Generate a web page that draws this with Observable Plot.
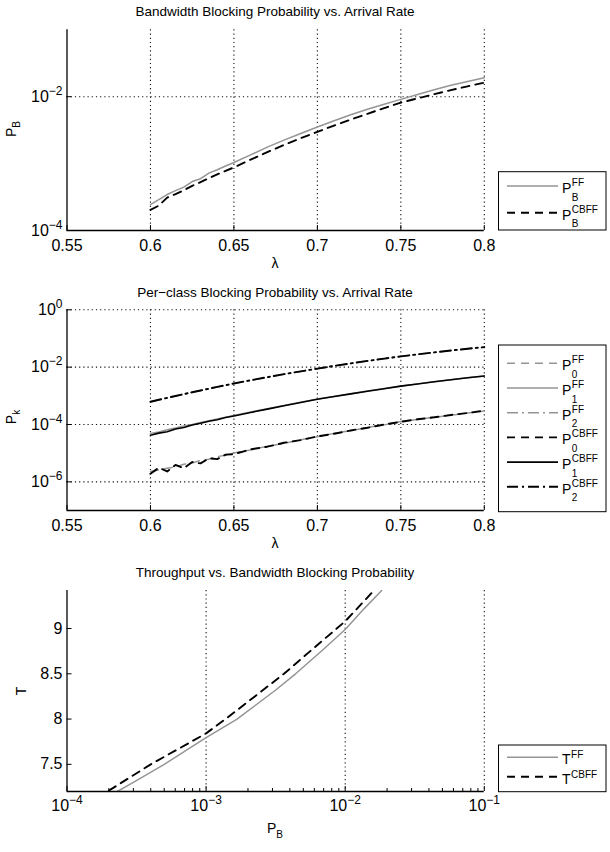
<!DOCTYPE html>
<html><head><meta charset="utf-8">
<script src="https://cdn.jsdelivr.net/npm/d3@7"></script>
<script src="https://cdn.jsdelivr.net/npm/@observablehq/plot@0.6"></script>
<style>
body{margin:0;background:#fff;}
#root{position:relative;width:610px;height:852px;overflow:hidden;background:#fff;}
#root svg{position:absolute;left:0;}
</style></head><body><div id="root"></div>
<script>
// ---------------- DATA ----------------
const lam = [0.6,0.605,0.61,0.615,0.62,0.625,0.63,0.635,0.64,0.645,0.65,0.66,0.67,0.68,0.69,0.70,0.71,0.72,0.73,0.74,0.75,0.76,0.77,0.78,0.79,0.80];

// Panel 1: bandwidth blocking probability
const pbFF   = [2.44e-4,2.9e-4,3.45e-4,3.95e-4,4.45e-4,5.4e-4,5.95e-4,7.2e-4,8.1e-4,9.2e-4,1.04e-3,1.35e-3,1.76e-3,2.24e-3,2.82e-3,3.53e-3,4.37e-3,5.37e-3,6.49e-3,7.73e-3,9.12e-3,1.076e-2,1.268e-2,1.479e-2,1.69e-2,1.92e-2];
const pbCBFF = [2.04e-4,2.35e-4,3.1e-4,3.5e-4,4.0e-4,4.65e-4,5.3e-4,6.05e-4,6.9e-4,7.8e-4,8.77e-4,1.148e-3,1.479e-3,1.905e-3,2.40e-3,2.98e-3,3.70e-3,4.55e-3,5.55e-3,6.76e-3,8.15e-3,9.44e-3,1.091e-2,1.253e-2,1.429e-2,1.62e-2];

// Panel 2: per-class blocking probability
const p0FF   = [2.3e-6,2.6e-6,3.0e-6,3.3e-6,4.1e-6,4.5e-6,5.6e-6,6.1e-6,7.6e-6,8.4e-6,1.02e-5,1.3e-5,1.75e-5,2.2e-5,2.95e-5,3.75e-5,4.9e-5,6.05e-5,7.9e-5,9.7e-5,1.27e-4,1.48e-4,1.8e-4,2.1e-4,2.5e-4,2.95e-4];
const p1FF   = [4.9e-5,5.5e-5,6.6e-5,7.5e-5,8.8e-5,1.0e-4,1.18e-4,1.34e-4,1.56e-4,1.79e-4,2.08e-4,2.72e-4,3.52e-4,4.6e-4,5.95e-4,7.7e-4,9.55e-4,1.19e-3,1.46e-3,1.79e-3,2.2e-3,2.61e-3,3.1e-3,3.64e-3,4.28e-3,4.95e-3];
const p2FF   = [6.1e-4,7.2e-4,8.4e-4,9.8e-4,1.14e-3,1.32e-3,1.52e-3,1.76e-3,2.02e-3,2.33e-3,2.67e-3,3.45e-3,4.43e-3,5.63e-3,7.08e-3,8.84e-3,1.095e-2,1.345e-2,1.635e-2,1.97e-2,2.36e-2,2.79e-2,3.26e-2,3.78e-2,4.36e-2,4.97e-2];
const p0CBFF = [1.9e-6,3.1e-6,2.3e-6,3.9e-6,3.0e-6,4.9e-6,4.4e-6,6.6e-6,6.2e-6,8.9e-6,9.2e-6,1.36e-5,1.68e-5,2.3e-5,2.85e-5,3.85e-5,4.75e-5,6.2e-5,7.7e-5,1.0e-4,1.24e-4,1.52e-4,1.78e-4,2.15e-4,2.52e-4,3.05e-4];
const p1CBFF = [4.2e-5,5.0e-5,5.6e-5,7.0e-5,7.9e-5,9.6e-5,1.10e-4,1.30e-4,1.47e-4,1.74e-4,1.98e-4,2.62e-4,3.44e-4,4.48e-4,5.82e-4,7.55e-4,9.4e-4,1.17e-3,1.44e-3,1.77e-3,2.18e-3,2.59e-3,3.08e-3,3.62e-3,4.26e-3,4.93e-3];
const p2CBFF = [6.22e-4,7.28e-4,8.49e-4,9.89e-4,1.148e-3,1.33e-3,1.538e-3,1.774e-3,2.04e-3,2.344e-3,2.69e-3,3.48e-3,4.47e-3,5.68e-3,7.14e-3,8.91e-3,1.104e-2,1.355e-2,1.648e-2,1.986e-2,2.377e-2,2.805e-2,3.28e-2,3.81e-2,4.39e-2,5.01e-2];

// Panel 3: throughput vs bandwidth blocking probability
const tPbFF   = [2.3e-4,3.0e-4,5.0e-4,1.0e-3,1.67e-3,3.1e-3,4.4e-3,6.7e-3,1.0e-2,1.37e-2,1.83e-2];
const tFF     = [7.2,7.3,7.5,7.794,8.0,8.31,8.5,8.746,8.99,9.22,9.42];
const tPbCBFF = [2.0e-4,2.6e-4,4.0e-4,1.0e-3,1.38e-3,2.24e-3,3.63e-3,5.9e-3,1.0e-2,1.61e-2];
const tCBFF   = [7.21,7.32,7.5,7.842,8.0,8.25,8.5,8.78,9.08,9.42];

// Ticks and labels
const lamTicks = [0.55,0.6,0.65,0.7,0.75,0.8];
const lamTickLabels = ["0.55","0.6","0.65","0.7","0.75","0.8"];
const lamGrid = [0.6,0.65,0.7,0.75,0.8];
const y1Ticks = [1e-4,1e-2];
const y1TickLabels = ["10^\u22124","10^\u22122"];
const y2Ticks = [1e-6,1e-4,1e-2,1];
const y2TickLabels = ["10^\u22126","10^\u22124","10^\u22122","10^0"];
const x3Ticks = [1e-4,1e-3,1e-2,1e-1];
const x3TickLabels = ["10^\u22124","10^\u22123","10^\u22122","10^\u22121"];
const y3Ticks = [7.5,8,8.5,9];
const y3TickLabels = ["7.5","8","8.5","9"];

const titles = ["Bandwidth Blocking Probability vs. Arrival Rate","Per\u2212class Blocking Probability vs. Arrival Rate","Throughput vs. Bandwidth Blocking Probability"];

const leg1Main = ["P","P"], leg1Sup = ["FF","CBFF"], leg1Sub = ["B","B"];
const leg2Main = ["P","P","P","P","P","P"], leg2Sup = ["FF","FF","FF","CBFF","CBFF","CBFF"], leg2Sub = ["0","1","2","0","1","2"];
const leg3Main = ["T","T"], leg3Sup = ["FF","CBFF"], leg3Sub = ["",""];

// ---------------- STYLES ----------------
const FONT = '"Liberation Sans", Arial, Helvetica, sans-serif';
const NS = "http://www.w3.org/2000/svg";
const GRAY = "#959595";
const S = {
  graySolid: {stroke: GRAY, strokeWidth: 1.5},
  grayDash:  {stroke: GRAY, strokeWidth: 1.5, strokeDasharray: "8,6"},
  grayDashDot: {stroke: GRAY, strokeWidth: 1.5, strokeDasharray: "11,4,2,4"},
  blackSolid: {stroke: "#000", strokeWidth: 1.6},
  blackDash:  {stroke: "#000", strokeWidth: 1.9, strokeDasharray: "8,6"},
  blackDashDot: {stroke: "#000", strokeWidth: 1.9, strokeDasharray: "11,4,2,4"}
};
const gridStyle = {stroke: "#111", strokeWidth: 1.1, strokeDasharray: "1.2,3"};
const root = document.getElementById("root");

function fmtMap(ticks, labels){ return new Map(ticks.map((t,i)=>[t,labels[i]])); }

function supify(svg){
  svg.querySelectorAll("text").forEach(t => {
    const m = /^10\^(.+)$/.exec(t.textContent);
    if (!m) return;
    t.textContent = "";
    const a = document.createElementNS(NS,"tspan"); a.textContent = "10";
    const b = document.createElementNS(NS,"tspan"); b.textContent = m[1];
    b.setAttribute("dy","-7"); b.setAttribute("font-size","12");
    t.append(a,b);
  });
}

function axisMarks(p){
  const xf = fmtMap(p.xTicks, p.xLabels), yf = fmtMap(p.yTicks, p.yLabels);
  return [
    Plot.ruleX([p.xDomain[0]], {stroke:"#000", strokeWidth:1.3}),
    Plot.ruleY([p.yDomain[0]], {stroke:"#000", strokeWidth:1.3}),
    Plot.ruleX(p.xTicks, {y1: () => p.yDomain[0], y2: () => p.yDomain[0], insetTop: -5, stroke:"#000", strokeWidth:1}),
    Plot.ruleY(p.yTicks, {x1: () => p.xDomain[0], x2: () => p.xDomain[0], insetRight: -5, stroke:"#000", strokeWidth:1}),
    Plot.axisX({ticks: p.xTicks, tickFormat: d => xf.get(d), tickSize: 0, tickPadding: p.xPad, fontSize: 16, label: null}),
    Plot.axisY({ticks: p.yTicks, tickFormat: d => yf.get(d), tickSize: 0, tickPadding: 4.5, fontSize: 16, label: null})
  ];
}

function mount(svg, top){
  svg.style.position = "absolute";
  svg.style.top = top + "px";
  svg.style.left = "0px";
  root.appendChild(svg);
  supify(svg);
  return d3.select(svg);
}

function addTitle(sel, text, y){
  sel.append("text").attr("x",275).attr("y",y).attr("text-anchor","middle")
    .attr("font-family",FONT).attr("font-size",13.5).attr("fill","#000").text(text);
}
function addYLabel(sel, x, y, main, sub){
  const t = sel.append("text").attr("transform",`translate(${x},${y}) rotate(-90)`).attr("text-anchor","middle")
    .attr("font-family",FONT).attr("font-size",14).attr("fill","#000");
  t.append("tspan").text(main);
  if (sub) t.append("tspan").attr("dy",4).attr("font-size",10).text(sub);
}
function addXLabel(sel, y, main, sub){
  const t = sel.append("text").attr("x",275).attr("y",y).attr("text-anchor","middle")
    .attr("font-family",FONT).attr("font-size",14).attr("fill","#000");
  t.append("tspan").text(main);
  if (sub) t.append("tspan").attr("dy",5).attr("font-size",10).text(sub);
}
function addLegend(sel, box, styles, mains, sups, subs){
  const g = sel.append("g").attr("font-family",FONT).attr("fill","#000").attr("text-anchor","start");
  g.append("rect").attr("x",box.x).attr("y",box.y).attr("width",box.w).attr("height",box.h)
    .attr("fill","#fff").attr("stroke","#000").attr("stroke-width",1);
  styles.forEach((s,i) => {
    const y = box.row0 + i*box.step;
    g.append("line").attr("x1",507).attr("x2",558).attr("y1",y).attr("y2",y)
      .attr("stroke",s.stroke).attr("stroke-width",s.strokeWidth).attr("stroke-dasharray",s.strokeDasharray||null);
    const m = g.append("text").attr("x",562).attr("y",y+7).attr("font-size",14).attr("text-anchor","start").text(mains[i]);
    const w = m.node().getComputedTextLength();
    g.append("text").attr("x",562+w+0.5).attr("y",y+box.supDy).attr("font-size",10).attr("text-anchor","start").text(sups[i]);
    if (subs[i]) g.append("text").attr("x",562+w+0.5).attr("y",y+14.5).attr("font-size",10).attr("text-anchor","start").text(subs[i]);
  });
}

const baseStyle = {fontFamily: FONT, fontSize: "16px", color: "#000", background: "transparent", overflow: "visible"};

// ---------------- PANEL 1 ----------------
{
  const p = {xDomain:[0.55,0.8], yDomain:[1e-4,1e-1], xTicks: lamTicks, xLabels: lamTickLabels, yTicks: y1Ticks, yLabels: y1TickLabels, xPad: 9};
  const svg = Plot.plot({
    width: 610, height: 280, marginTop: 29.3, marginBottom: 50, marginLeft: 66.5, marginRight: 126.2,
    style: baseStyle,
    x: {domain: p.xDomain}, y: {type: "log", domain: p.yDomain},
    marks: [
      Plot.ruleX(lamGrid, gridStyle),
      Plot.ruleY([1e-2], gridStyle),
      Plot.lineY(pbFF, {x: lam, ...S.graySolid}),
      Plot.lineY(pbCBFF, {x: lam, ...S.blackDash}),
      ...axisMarks(p)
    ]
  });
  const sel = mount(svg, 0);
  addTitle(sel, titles[0], 16);
  addYLabel(sel, 16, 129, "P", "B");
  addXLabel(sel, 268, "\u03bb");
  addLegend(sel, {x:498.5, y:171.7, w:107.5, h:58.3, row0:186, step:26.7, supDy:0},
    [S.graySolid, S.blackDash], leg1Main, leg1Sup, leg1Sub);
}

// ---------------- PANEL 2 ----------------
{
  const p = {xDomain:[0.55,0.8], yDomain:[1e-7,1], xTicks: lamTicks, xLabels: lamTickLabels, yTicks: y2Ticks, yLabels: y2TickLabels, xPad: 9};
  const svg = Plot.plot({
    width: 610, height: 275, marginTop: 29.3, marginBottom: 45, marginLeft: 66.5, marginRight: 126.2,
    style: baseStyle,
    x: {domain: p.xDomain}, y: {type: "log", domain: p.yDomain},
    marks: [
      Plot.ruleX(lamGrid, gridStyle),
      Plot.ruleY(y2Ticks, gridStyle),
      Plot.lineY(p0FF, {x: lam, ...S.grayDash}),
      Plot.lineY(p1FF, {x: lam, ...S.graySolid}),
      Plot.lineY(p2FF, {x: lam, ...S.grayDashDot}),
      Plot.lineY(p0CBFF, {x: lam, ...S.blackDash}),
      Plot.lineY(p1CBFF, {x: lam, ...S.blackSolid}),
      Plot.lineY(p2CBFF, {x: lam, ...S.blackDashDot}),
      ...axisMarks(p)
    ]
  });
  const sel = mount(svg, 280);
  addTitle(sel, titles[1], 17);
  addYLabel(sel, 16, 137, "P", "k");
  addXLabel(sel, 268, "\u03bb");
  addLegend(sel, {x:498.5, y:65, w:107.5, h:166.7, row0:83.3, step:24.7, supDy:0},
    [S.grayDash, S.graySolid, S.grayDashDot, S.blackDash, S.blackSolid, S.blackDashDot], leg2Main, leg2Sup, leg2Sub);
}

// ---------------- PANEL 3 ----------------
{
  const p = {xDomain:[1e-4,1e-1], yDomain:[7.2,9.42], xTicks: x3Ticks, xLabels: x3TickLabels, yTicks: y3Ticks, yLabels: y3TickLabels, xPad: 8};
  const minor = d3.scaleLog().domain(p.xDomain).ticks().filter(t => !x3Ticks.includes(t));
  const svg = Plot.plot({
    width: 610, height: 297, marginTop: 35, marginBottom: 61, marginLeft: 66.5, marginRight: 126.2,
    style: baseStyle,
    x: {type: "log", domain: p.xDomain}, y: {domain: p.yDomain},
    marks: [
      Plot.ruleX(x3Ticks.slice(1), gridStyle),
      Plot.ruleX(minor, {y1: () => p.yDomain[0], y2: () => p.yDomain[0], insetTop: -3, stroke:"#000", strokeWidth:1}),
      Plot.line(tPbFF, {x: tPbFF, y: tFF, ...S.graySolid, clip: true}),
      Plot.line(tPbCBFF, {x: tPbCBFF, y: tCBFF, ...S.blackDash, clip: true}),
      ...axisMarks(p)
    ]
  });
  const sel = mount(svg, 555);
  addTitle(sel, titles[2], 21.5);
  addYLabel(sel, 26, 136, "T", null);
  addXLabel(sel, 278, "P", "B");
  addLegend(sel, {x:498.5, y:190, w:107.5, h:46.7, row0:202.3, step:19.4, supDy:1},
    [S.graySolid, S.blackDash], leg3Main, leg3Sup, leg3Sub);
}
</script></body></html>
